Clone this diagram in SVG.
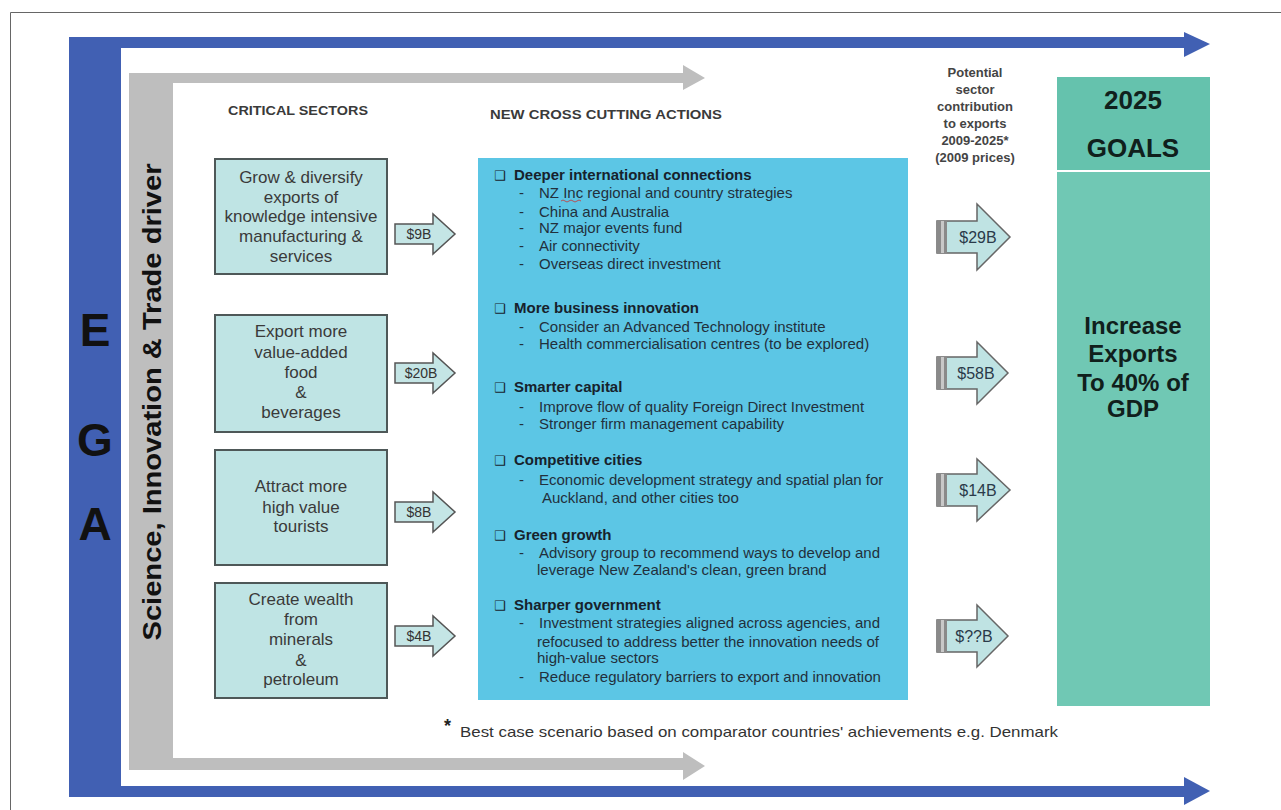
<svg xmlns="http://www.w3.org/2000/svg" width="1281" height="810" viewBox="0 0 1281 810">
<style>
text{font-family:"Liberation Sans",Arial,sans-serif}
.sec{fill:#bfe4e4;stroke:#4e5858;stroke-width:2}
.st{font-size:17px;fill:#3a3a3a;text-anchor:middle}
.hd{font-size:13px;font-weight:bold;fill:#3a3a3a}
.sa{fill:#c4e5e5;stroke:#555;stroke-width:1.5}
.sal{font-size:14px;fill:#333;text-anchor:middle}
.ba{fill:#bfe3e3;stroke:#666;stroke-width:1.5}
.bal{font-size:16px;fill:#2a3a4a;text-anchor:middle}
.bh{font-size:15px;font-weight:bold;fill:#17222c}
.bi{font-size:15px;fill:#22303c}
.bul{font-family:"DejaVu Sans",sans-serif;font-size:13px;font-weight:bold;fill:#17222c}
.gl{font-weight:bold;fill:#10201c;text-anchor:middle}
.pt{font-size:13px;font-weight:bold;fill:#444;text-anchor:middle}
</style>
<rect width="1281" height="810" fill="#fff"/>
<path d="M10.5 815 V12.5 H1281" fill="none" stroke="#666" stroke-width="1"/>

<g id="ega-frame">
<rect x="69" y="37" width="52" height="760" fill="#4160b3"/>
<rect x="69" y="37" width="1119" height="11" fill="#4160b3"/>
<polygon points="1184,32 1210,44 1184,57" fill="#4160b3"/>
<rect x="69" y="786" width="1119" height="11" fill="#4160b3"/>
<polygon points="1184,777 1210,791 1184,805" fill="#4160b3"/>
<text x="95" y="346" font-size="46" font-weight="bold" fill="#111" text-anchor="middle">E</text>
<text x="95" y="456" font-size="46" font-weight="bold" fill="#111" text-anchor="middle">G</text>
<text x="95" y="540" font-size="46" font-weight="bold" fill="#111" text-anchor="middle">A</text>
</g>

<g id="science-frame">
<rect x="129" y="73" width="44" height="697" fill="#bebebe"/>
<rect x="129" y="73" width="556" height="10" fill="#bebebe"/>
<polygon points="683,65 705,78 683,90" fill="#bebebe"/>
<rect x="129" y="758" width="556" height="12" fill="#bebebe"/>
<polygon points="683,752 705,766 683,780" fill="#bebebe"/>
<text transform="translate(161,402) rotate(-90)" font-size="26" font-weight="bold" fill="#111" text-anchor="middle" textLength="477" lengthAdjust="spacingAndGlyphs">Science, Innovation &amp; Trade driver</text>
</g>

<g id="headings">
<text class="hd" x="228" y="115" textLength="140" lengthAdjust="spacingAndGlyphs">CRITICAL  SECTORS</text>
<text class="hd" x="490" y="119" textLength="232" lengthAdjust="spacingAndGlyphs">NEW CROSS  CUTTING  ACTIONS</text>
</g>

<g id="sector-1">
<rect class="sec" x="215" y="159" width="172" height="115"/>
<text class="st" x="301" y="183">Grow &amp; diversify</text>
<text class="st" x="301" y="203">exports of</text>
<text class="st" x="301" y="222">knowledge intensive</text>
<text class="st" x="301" y="242">manufacturing &amp;</text>
<text class="st" x="301" y="262">services</text>
</g>
<g id="sector-2">
<rect class="sec" x="215" y="315" width="172" height="117"/>
<text class="st" x="301" y="337">Export more</text>
<text class="st" x="301" y="358">value-added</text>
<text class="st" x="301" y="378">food</text>
<text class="st" x="301" y="398">&amp;</text>
<text class="st" x="301" y="418">beverages</text>
</g>
<g id="sector-3">
<rect class="sec" x="215" y="450" width="172" height="115"/>
<text class="st" x="301" y="492">Attract more</text>
<text class="st" x="301" y="513">high value</text>
<text class="st" x="301" y="532">tourists</text>
</g>
<g id="sector-4">
<rect class="sec" x="215" y="583" width="172" height="115"/>
<text class="st" x="301" y="605">Create wealth</text>
<text class="st" x="301" y="625">from</text>
<text class="st" x="301" y="645">minerals</text>
<text class="st" x="301" y="666">&amp;</text>
<text class="st" x="301" y="685">petroleum</text>
</g>

<g id="actions">
<rect x="478" y="158" width="430" height="542" fill="#5cc6e5"/>
<text class="bul" x="494" y="180">❑</text>
<text class="bh" x="514" y="180">Deeper international  connections</text>
<text class="bi" x="519" y="198">-</text><text class="bi" x="539" y="198">NZ Inc regional and country strategies</text>
<path d="M561 201 q2 -2 4 0 t4 0 t4 0 t4 0 t4 0" fill="none" stroke="#c33" stroke-width="0.8"/>
<text class="bi" x="519" y="217">-</text><text class="bi" x="539" y="217">China and Australia</text>
<text class="bi" x="519" y="233">-</text><text class="bi" x="539" y="233">NZ major events fund</text>
<text class="bi" x="519" y="251">-</text><text class="bi" x="539" y="251">Air connectivity</text>
<text class="bi" x="519" y="269">-</text><text class="bi" x="539" y="269">Overseas direct investment</text>
<text class="bul" x="494" y="313">❑</text>
<text class="bh" x="514" y="313">More business  innovation</text>
<text class="bi" x="519" y="332">-</text><text class="bi" x="539" y="332">Consider an Advanced  Technology institute</text>
<text class="bi" x="519" y="349">-</text><text class="bi" x="539" y="349">Health commercialisation centres (to be explored)</text>
<text class="bul" x="494" y="392">❑</text>
<text class="bh" x="514" y="392">Smarter capital</text>
<text class="bi" x="519" y="412">-</text><text class="bi" x="539" y="412">Improve flow of quality Foreign Direct Investment</text>
<text class="bi" x="519" y="429">-</text><text class="bi" x="539" y="429">Stronger firm management capability</text>
<text class="bul" x="494" y="465">❑</text>
<text class="bh" x="514" y="465">Competitive  cities</text>
<text class="bi" x="519" y="485">-</text><text class="bi" x="539" y="485">Economic development strategy and spatial plan for</text>
<text class="bi" x="542" y="503">Auckland, and other cities too</text>
<text class="bul" x="494" y="540">❑</text>
<text class="bh" x="514" y="540">Green  growth</text>
<text class="bi" x="519" y="558">-</text><text class="bi" x="539" y="558">Advisory group to recommend ways to develop and</text>
<text class="bi" x="537" y="575">leverage New Zealand's clean, green brand</text>
<text class="bul" x="494" y="610">❑</text>
<text class="bh" x="514" y="610">Sharper government</text>
<text class="bi" x="519" y="628">-</text><text class="bi" x="539" y="628">Investment strategies aligned across agencies, and</text>
<text class="bi" x="537" y="647">refocused to address better the innovation needs of</text>
<text class="bi" x="537" y="663">high-value sectors</text>
<text class="bi" x="519" y="682">-</text><text class="bi" x="539" y="682">Reduce regulatory barriers to export and innovation</text>
</g>

<g id="potential-label">
<text class="pt" x="975" y="77">Potential</text>
<text class="pt" x="975" y="94">sector</text>
<text class="pt" x="975" y="111">contribution</text>
<text class="pt" x="975" y="128">to exports</text>
<text class="pt" x="975" y="145">2009-2025*</text>
<text class="pt" x="975" y="162">(2009 prices)</text>
</g>

<g id="goals">
<rect x="1057" y="77" width="153" height="93" fill="#65c2ad"/>
<rect x="1057" y="172" width="153" height="534" fill="#70c8b4"/>
<text class="gl" x="1133" y="109" font-size="26">2025</text>
<text class="gl" x="1133" y="157" font-size="26">GOALS</text>
<text class="gl" x="1133" y="334" font-size="24">Increase</text>
<text class="gl" x="1133" y="362" font-size="24">Exports</text>
<text class="gl" x="1133" y="391" font-size="24">To 40% of</text>
<text class="gl" x="1133" y="417" font-size="24">GDP</text>
</g>

<g id="connectors">
<g id="arrow-9b"><polygon class="sa" points="395,224 433,224 433,214 455,234 433,254 433,244 395,244"/><text class="sal" x="419" y="239">$9B</text></g>
<g id="arrow-20b"><polygon class="sa" points="395,363 433,363 433,353 455,373 433,393 433,383 395,383"/><text class="sal" x="421" y="378">$20B</text></g>
<g id="arrow-8b"><polygon class="sa" points="395,502 433,502 433,492 455,512 433,532 433,522 395,522"/><text class="sal" x="419" y="517">$8B</text></g>
<g id="arrow-4b"><polygon class="sa" points="395,626 433,626 433,616 455,636 433,656 433,646 395,646"/><text class="sal" x="419" y="641">$4B</text></g>

<g id="arrow-29b"><polygon class="ba" points="937,221 977,221 977,204 1010,237 977,270 977,253 937,253"/><rect x="937" y="221" width="10" height="32" fill="#8a8a8a"/><rect x="941" y="221" width="3" height="32" fill="#c8c8c8"/><text class="bal" x="978" y="243">$29B</text></g>
<g id="arrow-58b"><polygon class="ba" points="937,357 977,357 977,342 1008,373 977,404 977,389 937,389"/><rect x="937" y="357" width="10" height="32" fill="#8a8a8a"/><rect x="941" y="357" width="3" height="32" fill="#c8c8c8"/><text class="bal" x="976" y="379">$58B</text></g>
<g id="arrow-14b"><polygon class="ba" points="937,474 977,474 977,459 1010,490 977,521 977,506 937,506"/><rect x="937" y="474" width="10" height="32" fill="#8a8a8a"/><rect x="941" y="474" width="3" height="32" fill="#c8c8c8"/><text class="bal" x="978" y="496">$14B</text></g>
<g id="arrow-unknown"><polygon class="ba" points="937,620 977,620 977,605 1008,636 977,667 977,652 937,652"/><rect x="937" y="620" width="10" height="32" fill="#8a8a8a"/><rect x="941" y="620" width="3" height="32" fill="#c8c8c8"/><text class="bal" x="974" y="642">$??B</text></g>
</g>

<g id="footnote">
<text x="444" y="732" font-size="18" font-weight="bold" fill="#222">*</text>
<text x="460" y="737" font-size="15" fill="#333" textLength="598" lengthAdjust="spacingAndGlyphs">Best case scenario based on comparator countries' achievements e.g. Denmark</text>
</g>
</svg>
